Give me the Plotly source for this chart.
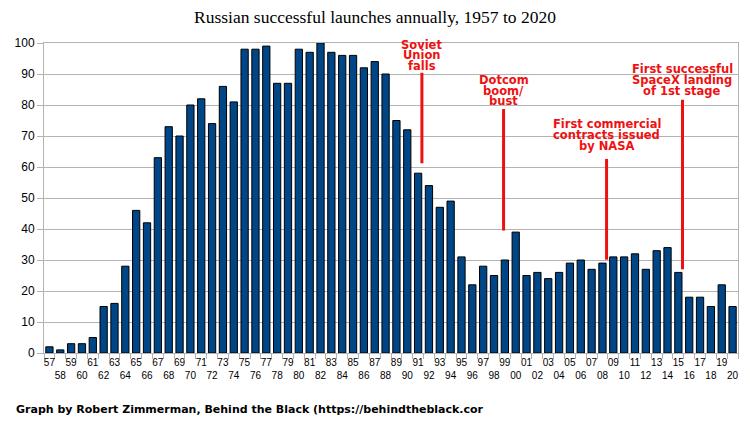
import plotly.graph_objects as go

years = [str(y) for y in range(1957, 2021)]
launches = [2, 1, 3, 3, 5, 15, 16, 28, 46, 42, 63, 73, 70, 80, 82, 74, 86, 81, 98, 98,
            99, 87, 87, 98, 97, 100, 97, 96, 96, 92, 94, 90, 75, 72, 58, 54, 47, 49, 31, 22,
            28, 25, 30, 39, 25, 26, 24, 26, 29, 30, 27, 29, 31, 31, 32, 27, 33, 34, 26, 18,
            18, 15, 22, 15]
tick_labels = [y[2:] if i % 2 == 0 else "<br>" + y[2:] for i, y in enumerate(years)]

# events: (category index position, line bottom, line top, text lines, text line y values)
event_pos = [34.35, 41.88, 51.38, 58.38]
event_line_bottom = [61.2, 39.5, 30.1, 27.0]
event_line_top = [90.4, 78.7, 62.6, 81.7]
event_texts = [["Soviet", "Union", "falls"],
               ["Dotcom", "boom/", "bust"],
               ["First commercial", "contracts issued", "by NASA"],
               ["First successful", "SpaceX landing", "of 1st stage"]]
event_text_y = [[99.5, 96.0, 92.7],
                [88.2, 84.6, 81.3],
                [73.9, 70.3, 66.8],
                [91.6, 88.0, 84.5]]

RED = "#ee1111"

fig = go.Figure()
fig.add_trace(go.Bar(
    x=years, y=launches,
    marker=dict(color="#004586", line=dict(color="#000000", width=1)),
))

for pos, yb, yt, texts, tys in zip(event_pos, event_line_bottom, event_line_top, event_texts, event_text_y):
    fig.add_shape(type="line", xref="x", yref="y", x0=pos, x1=pos, y0=yb, y1=yt,
                  line=dict(color=RED, width=3))
    for t, ty in zip(texts, tys):
        fig.add_annotation(x=pos, y=ty, xref="x", yref="y", text=t, showarrow=False,
                           xanchor="center", yanchor="middle",
                           font=dict(family="DejaVu Sans", size=11.5, color=RED, weight="bold"))

fig.add_annotation(
    text="<b>Graph by Robert Zimmerman, Behind the Black (https://behindtheblack.cor</b>",
    xref="paper", yref="paper", x=-30/694, y=-(410 - 353.3) / 310.6,
    xanchor="left", yanchor="middle", showarrow=False,
    font=dict(family="DejaVu Sans", size=11, color="#000000"))

fig.update_layout(
    width=750, height=432,
    margin=dict(l=44, r=12, t=43, b=79),
    paper_bgcolor="white", plot_bgcolor="white",
    showlegend=False, bargap=0.33,
    title=dict(text="Russian successful launches annually, 1957 to 2020",
               x=0.5, xanchor="center", y=1 - 17 / 432, yanchor="middle",
               font=dict(family="Liberation Serif", size=17.5, color="#000000")),
    xaxis=dict(type="category", tickvals=years, ticktext=tick_labels, tickangle=0,
               tickson="boundaries", ticks="outside", ticklen=5, tickcolor="#b3b3b3",
               showline=True, linecolor="#b3b3b3", mirror=True, showgrid=False,
               tickfont=dict(family="Liberation Sans", size=10, color="#000000")),
    yaxis=dict(range=[0, 100], dtick=10, ticks="outside", ticklen=6, tickcolor="#b3b3b3",
               showgrid=True, gridcolor="#b3b3b3", gridwidth=1,
               showline=True, linecolor="#b3b3b3", mirror=True, zeroline=False,
               tickfont=dict(family="Liberation Sans", size=12, color="#000000")),
)

fig.write_html("out.html")
